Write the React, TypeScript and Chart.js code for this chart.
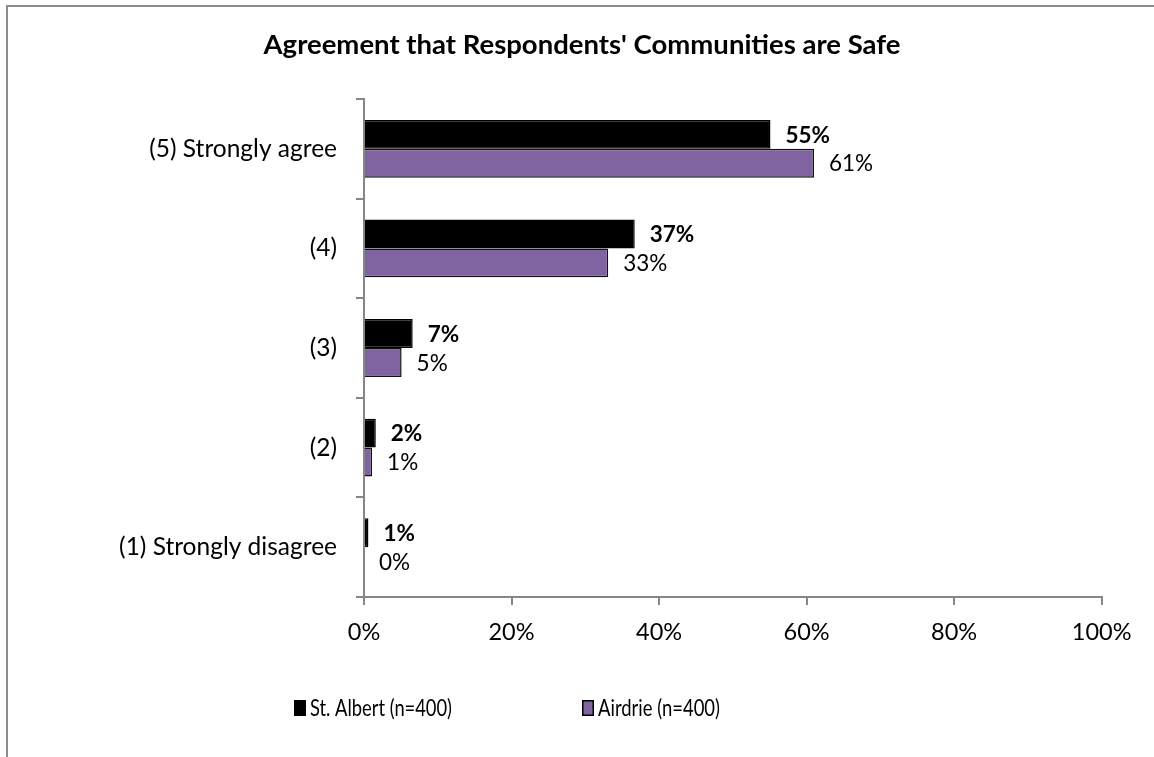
import React, { useEffect, useRef } from "react";
import { Chart, registerables } from "chart.js";

Chart.register(...registerables);

// ---- Data ----
const categories = ["(5) Strongly agree", "(4)", "(3)", "(2)", "(1) Strongly disagree"];
const seriesNames = ["St. Albert (n=400)", "Airdrie (n=400)"];
const stAlbertValues = [55.1, 36.7, 6.6, 1.6, 0.6];
const airdrieValues = [61.0, 33.1, 5.1, 1.1, 0];
const stAlbertLabels = ["55%", "37%", "7%", "2%", "1%"];
const airdrieLabels = ["61%", "33%", "5%", "1%", "0%"];
const xTickValues = [0, 20, 40, 60, 80, 100];
const titleText = "Agreement that Respondents' Communities are Safe";

// ---- Styles ----
const FONT = "Lato";
const BLACK = "#000000";
const PURPLE = "#8064A2";
const AXIS = "#868686";
const CANVAS_W = 1152;
const CANVAS_H = 760;
const PAD_RIGHT = CANVAS_W - 1095.7;
const PAD_LEFT = PAD_RIGHT; // keeps the title centred on the whole frame
const PLOT_LEFT = 358;

const framePlugin = {
  id: "frame",
  beforeDraw(chart: any) {
    const { ctx } = chart;
    ctx.save();
    ctx.strokeStyle = "#8c8c8c";
    ctx.lineWidth = 2;
    ctx.strokeRect(1, 1, chart.width + 20, chart.height + 20);
    ctx.restore();
  },
};

const dataLabelPlugin = {
  id: "dataLabels",
  afterDatasetsDraw(chart: any) {
    const { ctx } = chart;
    const labelSets = [stAlbertLabels, airdrieLabels];
    ctx.save();
    chart.data.datasets.forEach((ds: any, di: number) => {
      const meta = chart.getDatasetMeta(di);
      ctx.font = `${di === 0 ? "bold " : ""}22.5px ${FONT}`;
      ctx.fillStyle = "#000";
      ctx.textAlign = "left";
      ctx.textBaseline = "middle";
      meta.data.forEach((bar: any, i: number) => {
        ctx.fillText(labelSets[di][i], bar.x + 15, bar.y + 1);
      });
    });
    ctx.restore();
  },
};

const legendPlugin = {
  id: "customLegend",
  afterDraw(chart: any) {
    const { ctx } = chart;
    const items = [
      { text: seriesNames[0], color: BLACK, x: 288, w: 142 },
      { text: seriesNames[1], color: PURPLE, x: 576, w: 122 },
    ];
    const cy = 703;
    ctx.save();
    ctx.font = `22.5px ${FONT}`;
    ctx.textAlign = "left";
    ctx.textBaseline = "middle";
    items.forEach((it) => {
      ctx.fillStyle = it.color;
      ctx.fillRect(it.x, cy - 8, 12, 16);
      ctx.strokeStyle = "#000";
      ctx.lineWidth = 1.5;
      ctx.strokeRect(it.x + 0.75, cy - 7.25, 10.5, 14.5);
      ctx.fillStyle = "#000";
      ctx.fillText(it.text, it.x + 16, cy + 1, it.w);
    });
    ctx.restore();
  },
};

export default function App() {
  const canvasRef = useRef<HTMLCanvasElement | null>(null);

  useEffect(() => {
    if (!canvasRef.current) return;
    Chart.defaults.font.family = FONT;
    const chart = new Chart(canvasRef.current, {
      type: "bar",
      data: {
        labels: categories,
        datasets: [
          {
            label: seriesNames[0],
            data: stAlbertValues,
            backgroundColor: BLACK,
            borderColor: BLACK,
            borderWidth: 1.5,
            categoryPercentage: 0.58,
            barPercentage: 1.0,
          },
          {
            label: seriesNames[1],
            data: airdrieValues,
            backgroundColor: PURPLE,
            borderColor: "#111111",
            borderWidth: 1.5,
            categoryPercentage: 0.58,
            barPercentage: 1.0,
          },
        ],
      },
      options: {
        indexAxis: "y",
        responsive: false,
        animation: false,
        layout: { padding: { top: 0, left: PAD_LEFT, right: PAD_RIGHT, bottom: CANVAS_H - 592 - 60 } },
        plugins: {
          legend: { display: false },
          tooltip: { enabled: false },
          title: {
            display: true,
            text: titleText,
            color: "#000",
            font: { family: FONT, size: 27.5, weight: "bold", lineHeight: 1.2 },
            padding: { top: 23.5, bottom: 37.5 },
          },
        },
        scales: {
          x: {
            type: "linear",
            min: 0,
            max: 100,
            afterBuildTicks: (s: any) => {
              s.ticks = xTickValues.map((v) => ({ value: v }));
            },
            afterFit: (s: any) => {
              s.height = 60;
            },
            ticks: {
              color: "#000",
              font: { family: FONT, size: 23.5 },
              padding: 13,
              maxRotation: 0,
              callback: (v: any) => `${v}%`,
            },
            grid: {
              drawOnChartArea: false,
              drawTicks: true,
              tickLength: 8,
              color: AXIS,
              lineWidth: 2,
            },
            border: { display: true, color: AXIS, width: 2 },
          },
          y: {
            type: "category",
            afterFit: (s: any) => {
              s.width = PLOT_LEFT - PAD_LEFT;
            },
            ticks: {
              color: "#000",
              font: { family: FONT, size: 24.5 },
              padding: 19,
            },
            grid: {
              offset: true,
              drawOnChartArea: false,
              drawTicks: true,
              tickLength: 8,
              color: AXIS,
              lineWidth: 2,
            },
            border: { display: true, color: AXIS, width: 2 },
          },
        },
      },
      plugins: [framePlugin, dataLabelPlugin, legendPlugin],
    } as any);
    return () => chart.destroy();
  }, []);

  return (
    <div style={{ position: "fixed", left: 0, top: 0, width: 1154, height: 757, overflow: "hidden", background: "#fff" }}>
      <div style={{ position: "absolute", left: 6, top: 5 }}>
        <canvas ref={canvasRef} width={CANVAS_W} height={CANVAS_H} style={{ display: "block" }} />
      </div>
    </div>
  );
}
